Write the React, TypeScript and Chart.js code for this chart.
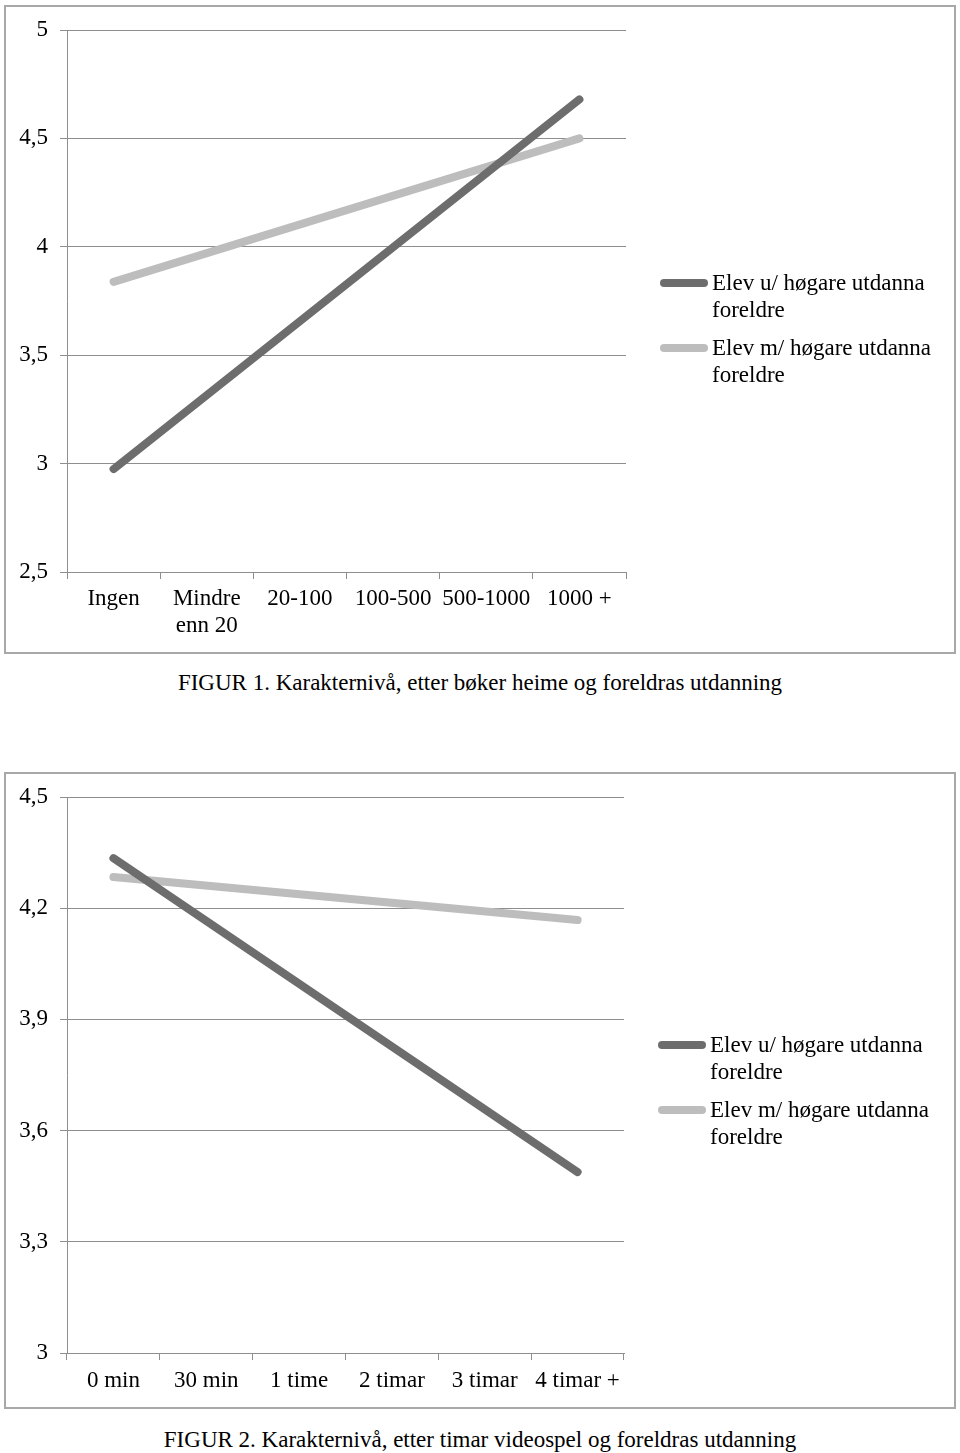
import React, { useEffect, useRef } from "react";
import { Chart, registerables } from "chart.js";

Chart.register(...registerables);

const categories1: (string | string[])[] = ["Ingen", ["Mindre", "enn 20"], "20-100", "100-500", "500-1000", "1000 +"];
const lowEdu1: (number | null)[] = [2.975, null, null, null, null, 4.68];
const highEdu1: (number | null)[] = [3.838, null, null, null, null, 4.5];

const categories2: string[] = ["0 min", "30 min", "1 time", "2 timar", "3 timar", "4 timar +"];
const lowEdu2: (number | null)[] = [4.335, null, null, null, null, 3.488];
const highEdu2: (number | null)[] = [4.284, null, null, null, null, 4.168];

const seriesNames = ["Elev u/ høgare utdanna foreldre", "Elev m/ høgare utdanna foreldre"];
const caption1 = "FIGUR 1. Karakternivå, etter bøker heime og foreldras utdanning";
const caption2 = "FIGUR 2. Karakternivå, etter timar videospel og foreldras utdanning";

const DARK = "#6d6d6d";
const LIGHT = "#bdbdbd";
const GRID = "#8e8e8e";
const FONT = "'Liberation Serif', 'Times New Roman', serif";
const FS = 23;

type Cfg = {
  labels: (string | string[])[];
  low: (number | null)[];
  high: (number | null)[];
  min: number;
  max: number;
  step: number;
  padTop: number;
  padRight: number;
  canvasH: number;
  axisH: number;
  xPad: number;
};

function LineChart({ cfg }: { cfg: Cfg }) {
  const ref = useRef<HTMLCanvasElement | null>(null);
  useEffect(() => {
    if (!ref.current) return;
    const fmt = (v: number) => (Math.round(v * 10) / 10).toString().replace(".", ",");
    const chart = new Chart(ref.current, {
      type: "line",
      data: {
        labels: cfg.labels as any,
        datasets: [
          {
            label: seriesNames[0],
            data: cfg.low,
            borderColor: DARK,
            backgroundColor: DARK,
            borderWidth: 8,
            borderCapStyle: "round",
            pointRadius: 0,
            spanGaps: true,
          },
          {
            label: seriesNames[1],
            data: cfg.high,
            borderColor: LIGHT,
            backgroundColor: LIGHT,
            borderWidth: 8,
            borderCapStyle: "round",
            pointRadius: 0,
            spanGaps: true,
          },
        ],
      },
      options: {
        responsive: false,
        animation: false,
        layout: { padding: { top: cfg.padTop, right: cfg.padRight, left: 0, bottom: 0 } },
        plugins: { legend: { display: false }, tooltip: { enabled: false } },
        scales: {
          x: {
            offset: true,
            grid: { display: true, drawOnChartArea: false, drawTicks: true, tickLength: 7, offset: true, color: GRID },
            border: { display: true, color: GRID, width: 1 },
            ticks: {
              color: "#000",
              padding: cfg.xPad,
              maxRotation: 0,
              autoSkip: false,
              font: { family: FONT, size: FS, lineHeight: "27px" as any },
            },
            afterFit: (s: any) => {
              s.height = cfg.axisH;
            },
          },
          y: {
            min: cfg.min,
            max: cfg.max,
            grid: { color: GRID, lineWidth: 1, tickLength: 7, drawTicks: true },
            border: { display: true, color: GRID, width: 1 },
            ticks: {
              stepSize: cfg.step,
              color: "#000",
              padding: 12,
              font: { family: FONT, size: FS },
              callback: (v: any) => fmt(Number(v)),
            },
            afterFit: (s: any) => {
              s.width = 67;
            },
          },
        },
      },
    });
    return () => chart.destroy();
  }, []);
  return <canvas ref={ref} width={960} height={cfg.canvasH} style={{ width: 960, height: cfg.canvasH, display: "block" }} />;
}

function Legend({ left, top }: { left: number; top: number }) {
  const item = (color: string, name: string, y: number) => (
    <div style={{ position: "absolute", left, top: y, width: 300 }}>
      <div style={{ position: "absolute", left: 0, top: 14 - 4, width: 48, height: 8, borderRadius: 4, background: color }} />
      <div style={{ position: "absolute", left: 52, top: 0, fontFamily: FONT, fontSize: FS, lineHeight: "27px", color: "#000", whiteSpace: "nowrap" }}>
        {name.replace(" foreldre", "")}
        <br />
        foreldre
      </div>
    </div>
  );
  return (
    <>
      {item(DARK, seriesNames[0], top)}
      {item(LIGHT, seriesNames[1], top + 65)}
    </>
  );
}

export default function App() {
  const cfg1: Cfg = {
    labels: categories1,
    low: lowEdu1,
    high: highEdu1,
    min: 2.5,
    max: 5,
    step: 0.5,
    padTop: 30,
    padRight: 334,
    canvasH: 660,
    axisH: 88,
    xPad: 6,
  };
  const cfg2: Cfg = {
    labels: categories2,
    low: lowEdu2,
    high: highEdu2,
    min: 3,
    max: 4.5,
    step: 0.3,
    padTop: 37,
    padRight: 336,
    canvasH: 660,
    axisH: 67,
    xPad: 7,
  };
  return (
    <div style={{ position: "absolute", left: 0, top: 0, width: 960, height: 1453, background: "#fff" }}>
      <div style={{ position: "absolute", left: 4, top: 5, width: 952, height: 649, border: "2px solid #a8a8a8", boxSizing: "border-box" }} />
      <div style={{ position: "absolute", left: 0, top: 0 }}>
        <LineChart cfg={cfg1} />
      </div>
      <Legend left={660} top={269} />
      <div style={{ position: "absolute", left: 0, top: 669, width: 960, textAlign: "center", fontFamily: FONT, fontSize: FS, lineHeight: "28px", color: "#000" }}>
        {caption1}
      </div>

      <div style={{ position: "absolute", left: 4, top: 772, width: 952, height: 637, border: "2px solid #a8a8a8", boxSizing: "border-box" }} />
      <div style={{ position: "absolute", left: 0, top: 760 }}>
        <LineChart cfg={cfg2} />
      </div>
      <Legend left={658} top={1031} />
      <div style={{ position: "absolute", left: 0, top: 1426, width: 960, textAlign: "center", fontFamily: FONT, fontSize: FS, lineHeight: "28px", color: "#000" }}>
        {caption2}
      </div>
    </div>
  );
}
